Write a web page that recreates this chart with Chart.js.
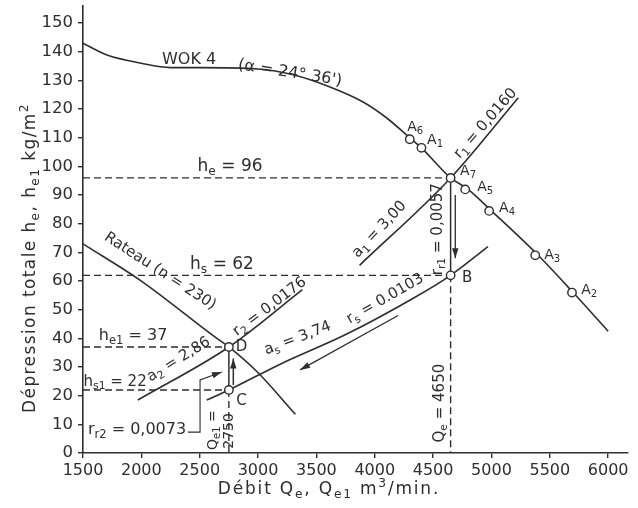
<!doctype html>
<html>
<head>
<meta charset="utf-8">
<title>WOK 4 - Rateau</title>
<script src="https://cdn.jsdelivr.net/npm/chart.js@4.4.1/dist/chart.umd.min.js"></script>
<style>
    html, body { margin: 0; padding: 0; background: #fff; }
    canvas { display: block; }
</style>
</head>
<body>
<canvas id="canvas" width="638" height="508"></canvas>
<script>
    // courbe du ventilateur WOK 4
    const wokQ = [1500, 1700, 2000, 2250, 2500, 3000, 3300, 3600, 3900, 4100, 4300, 4400, 4650, 4800, 5000, 5400, 5700, 6000];
    const wokH = [143, 139, 136, 134.5, 134.5, 134, 132, 128, 122.5, 117, 110, 106.5, 96, 92, 84.5, 69, 56, 42.5];
    // ventilateur Rateau n = 230
    const rateauQ = [1500, 2000, 2630, 2750, 3000, 3320];
    const rateauH = [73, 60, 40.5, 37, 28, 13.5];
    // caracteristiques de reseau
    const a2Q = [1970, 2750, 3380];
    const a2H = [18.5, 37, 57];
    const asQ = [2560, 2750, 3190, 3760, 4330, 4650, 4970];
    const asH = [18.5, 22, 31, 41.5, 54, 62, 72];
    const a1Q = [3870, 4650, 5230];
    const a1H = [65.5, 96, 124];
    // points de fonctionnement
    const ptNames = ['A6', 'A1', 'A7', 'A5', 'A4', 'A3', 'A2', 'B', 'C', 'D'];
    const ptQ = [4300, 4400, 4650, 4775, 4980, 5375, 5690, 4650, 2750, 2750];
    const ptH = [109.5, 106.5, 96, 92, 84.5, 69, 56, 62, 22, 37];
    const Qe = 4650, Qe1 = 2750;
    const he = 96, hs = 62, he1 = 37, hs1 = 22;
    // fleches
    const arrowR1Q = [4690, 4690], arrowR1H = [90, 68];
    const arrowSQ = [4200, 3360], arrowSH = [48, 29];
    const arrowCDQ = [2788, 2788], arrowCDH = [23.7, 33];
    const leaderQ = [2400, 2503, 2503, 2690], leaderH = [7.3, 7.3, 25.5, 28.3];
    // axes
    const xTicks = [1500, 2000, 2500, 3000, 3500, 4000, 4500, 5000, 5500, 6000];
    const yTicks = [0, 10, 20, 30, 40, 50, 60, 70, 80, 90, 100, 110, 120, 130, 140, 150];

    const ink = '#2e2e2e';
    const FONT = '"DejaVu Sans", Verdana, sans-serif';

    function pts(xs, ys) { return xs.map((x, i) => ({x: x, y: ys[i]})); }

    function curve(xs, ys) {
        return { data: pts(xs, ys), showLine: true, borderColor: ink, borderWidth: 1.6,
                 pointRadius: 0, cubicInterpolationMode: 'monotone', fill: false };
    }
    function straight(xs, ys, extra) {
        return Object.assign({ data: pts(xs, ys), showLine: true, borderColor: ink, borderWidth: 1.5,
                 pointRadius: 0, tension: 0, fill: false }, extra || {});
    }
    function dashed(xs, ys) { return straight(xs, ys, {borderDash: [7, 4], borderWidth: 1.4}); }

    // annotations : texte, Q, h, rotation, taille
    const labels = [
        ['WOK 4', 2409, 137.1, 0, 16],
        ['(\u03b1 = 24\u00b0 36\')', 3274, 132.6, 9, 16],
        ['A_{6}', 4346, 113.7, 0, 14],
        ['A_{1}', 4517, 109.2, 0, 14],
        ['A_{7}', 4800, 98.4, 0, 14],
        ['A_{5}', 4946, 92.8, 0, 14],
        ['A_{4}', 5134, 85.5, 0, 14],
        ['A_{3}', 5520, 69.1, 0, 14],
        ['A_{2}', 5837, 56.9, 0, 14],
        ['B', 4791, 61.0, 0, 15],
        ['D', 2858, 37.0, 0, 15],
        ['C', 2858, 18.1, 0, 15],
        ['h_{e} = 96', 2760, 99.8, 0, 17],
        ['h_{s} = 62', 2691, 65.6, 0, 17],
        ['h_{e1} = 37', 1929, 40.8, 0, 16],
        ['h_{s1} = 22', 1775, 24.8, 0, 15],
        ['r_{r2} = 0,0073', 1963, 8.0, 0, 16],
        ['a_{2} = 2,86', 2320, 32.6, -32, 15],
        ['r_{2} = 0,0176', 3100, 51.0, -37, 15],
        ['Rateau (n = 230)', 2160, 63.4, 33, 15],
        ['a_{s} = 3,74', 3340, 40.0, -21, 15],
        ['r_{s} = 0.0103', 4090, 53.8, -30, 15],
        ['a_{1} = 3,00', 4040, 78.0, -47, 15],
        ['r_{1} = 0,0160', 4950, 115.0, -49, 15],
        ['r_{r1} = 0,0057', 4543, 78.1, -90, 15],
        ['Q_{e} = 4650', 4560, 17.4, -90, 15],
        ['Q_{e1} =', 2614, 8.0, -90, 14],
        ['2750', 2751, 7.7, -90, 14]
    ];

    function parseRich(s) {
        const out = [];
        let cur = '', i = 0;
        while (i < s.length) {
            const c = s[i];
            if ((c === '_' || c === '^') && s[i + 1] === '{') {
                if (cur) out.push({t: cur, m: 0});
                cur = '';
                const j = s.indexOf('}', i);
                out.push({t: s.slice(i + 2, j), m: c === '_' ? 1 : -1});
                i = j + 1;
            } else { cur += c; i++; }
        }
        if (cur) out.push({t: cur, m: 0});
        return out;
    }

    function drawRich(ctx, s, x, y, rot, size, spacing) {
        const segs = parseRich(s);
        ctx.save();
        if ('letterSpacing' in ctx) ctx.letterSpacing = (spacing || 0) + 'px';
        let w = 0;
        segs.forEach(sg => {
            ctx.font = (sg.m ? size * 0.72 : size) + 'px ' + FONT;
            sg.w = ctx.measureText(sg.t).width;
            w += sg.w;
        });
        ctx.translate(x, y);
        ctx.rotate(rot * Math.PI / 180);
        ctx.fillStyle = ink;
        ctx.textBaseline = 'middle';
        ctx.textAlign = 'left';
        let cx = -w / 2;
        segs.forEach(sg => {
            ctx.font = (sg.m ? size * 0.72 : size) + 'px ' + FONT;
            const dy = sg.m === 1 ? size * 0.3 : (sg.m === -1 ? -size * 0.38 : 0);
            ctx.fillText(sg.t, cx, dy);
            cx += sg.w;
        });
        ctx.restore();
    }

    const annotations = {
        id: 'annotations',
        afterDatasetsDraw(chart) {
            const ctx = chart.ctx, xs = chart.scales.x, ys = chart.scales.y;
            // pointes de fleches
            chart.data.datasets.forEach(ds => {
                if (!ds.arrow) return;
                const n = ds.data.length;
                const p1 = ds.data[n - 2], p2 = ds.data[n - 1];
                const x1 = xs.getPixelForValue(p1.x), y1 = ys.getPixelForValue(p1.y);
                const x2 = xs.getPixelForValue(p2.x), y2 = ys.getPixelForValue(p2.y);
                const a = Math.atan2(y2 - y1, x2 - x1);
                const L = 10, W = 3.2;
                ctx.save();
                ctx.fillStyle = ink;
                ctx.beginPath();
                ctx.moveTo(x2, y2);
                ctx.lineTo(x2 - L * Math.cos(a) + W * Math.sin(a), y2 - L * Math.sin(a) - W * Math.cos(a));
                ctx.lineTo(x2 - L * Math.cos(a) - W * Math.sin(a), y2 - L * Math.sin(a) + W * Math.cos(a));
                ctx.closePath();
                ctx.fill();
                ctx.restore();
            });
            labels.forEach(l => {
                drawRich(ctx, l[0], xs.getPixelForValue(l[1]), ys.getPixelForValue(l[2]), l[3], l[4]);
            });
            // titres des axes
            drawRich(ctx, 'D\u00e9bit Q_{e}, Q_{e1} m^{3}/min.', 329, 490, 0, 17, 1.8);
            drawRich(ctx, 'D\u00e9pression totale h_{e}, h_{e1} kg/m^{2}', 31, 258, -90, 17, 1.4);
        }
    };

    const markers = {
        data: pts(ptQ, ptH), showLine: false, pointRadius: 4.2, pointBorderWidth: 1.4,
        pointBackgroundColor: '#fff', pointBorderColor: ink, pointStyle: 'circle'
    };

    new Chart(document.getElementById('canvas').getContext('2d'), {
        type: 'scatter',
        data: {
            datasets: [
                markers,
                curve(wokQ, wokH),
                curve(rateauQ, rateauH),
                curve(a2Q, a2H),
                curve(asQ, asH),
                curve(a1Q, a1H),
                straight([Qe, Qe], [he, hs]),
                straight([Qe1, Qe1], [he1, hs1]),
                dashed([1500, Qe], [he, he]),
                dashed([1500, Qe], [hs, hs]),
                dashed([1500, Qe1], [he1, he1]),
                dashed([1500, Qe1], [hs1, hs1]),
                dashed([Qe, Qe], [hs, 0]),
                dashed([Qe1, Qe1], [hs1, 0]),
                straight(arrowR1Q, arrowR1H, {arrow: true, borderWidth: 1.3}),
                straight(arrowSQ, arrowSH, {arrow: true, borderWidth: 1.3}),
                straight(arrowCDQ, arrowCDH, {arrow: true, borderWidth: 1.5}),
                straight(leaderQ, leaderH, {arrow: true, borderWidth: 1.1})
            ]
        },
        options: {
            responsive: false,
            animation: false,
            layout: { padding: { left: 0, right: 10, top: 6, bottom: 0 } },
            plugins: { legend: { display: false }, tooltip: { enabled: false } },
            scales: {
                x: {
                    type: 'linear', min: 1500, max: 6170,
                    afterBuildTicks: s => { s.ticks = xTicks.map(v => ({value: v})); },
                    afterFit: s => { s.height = 55; },
                    ticks: { color: ink, font: { family: FONT, size: 16 }, padding: 3, maxRotation: 0,
                             callback: v => String(v) },
                    grid: { drawOnChartArea: false, tickLength: 5, color: ink, lineWidth: 1.4 },
                    border: { color: ink, width: 1.6 }
                },
                y: {
                    type: 'linear', min: 0, max: 156,
                    afterBuildTicks: s => { s.ticks = yTicks.map(v => ({value: v})); },
                    afterFit: s => { s.width = 83; s.paddingTop = 0; s.paddingBottom = 0; },
                    ticks: { color: ink, font: { family: FONT, size: 16.5 }, padding: 5,
                             callback: v => String(v) },
                    grid: { drawOnChartArea: false, tickLength: 5, color: ink, lineWidth: 1.4 },
                    border: { color: ink, width: 1.6 }
                }
            }
        },
        plugins: [annotations]
    });
</script>
</body>
</html>
